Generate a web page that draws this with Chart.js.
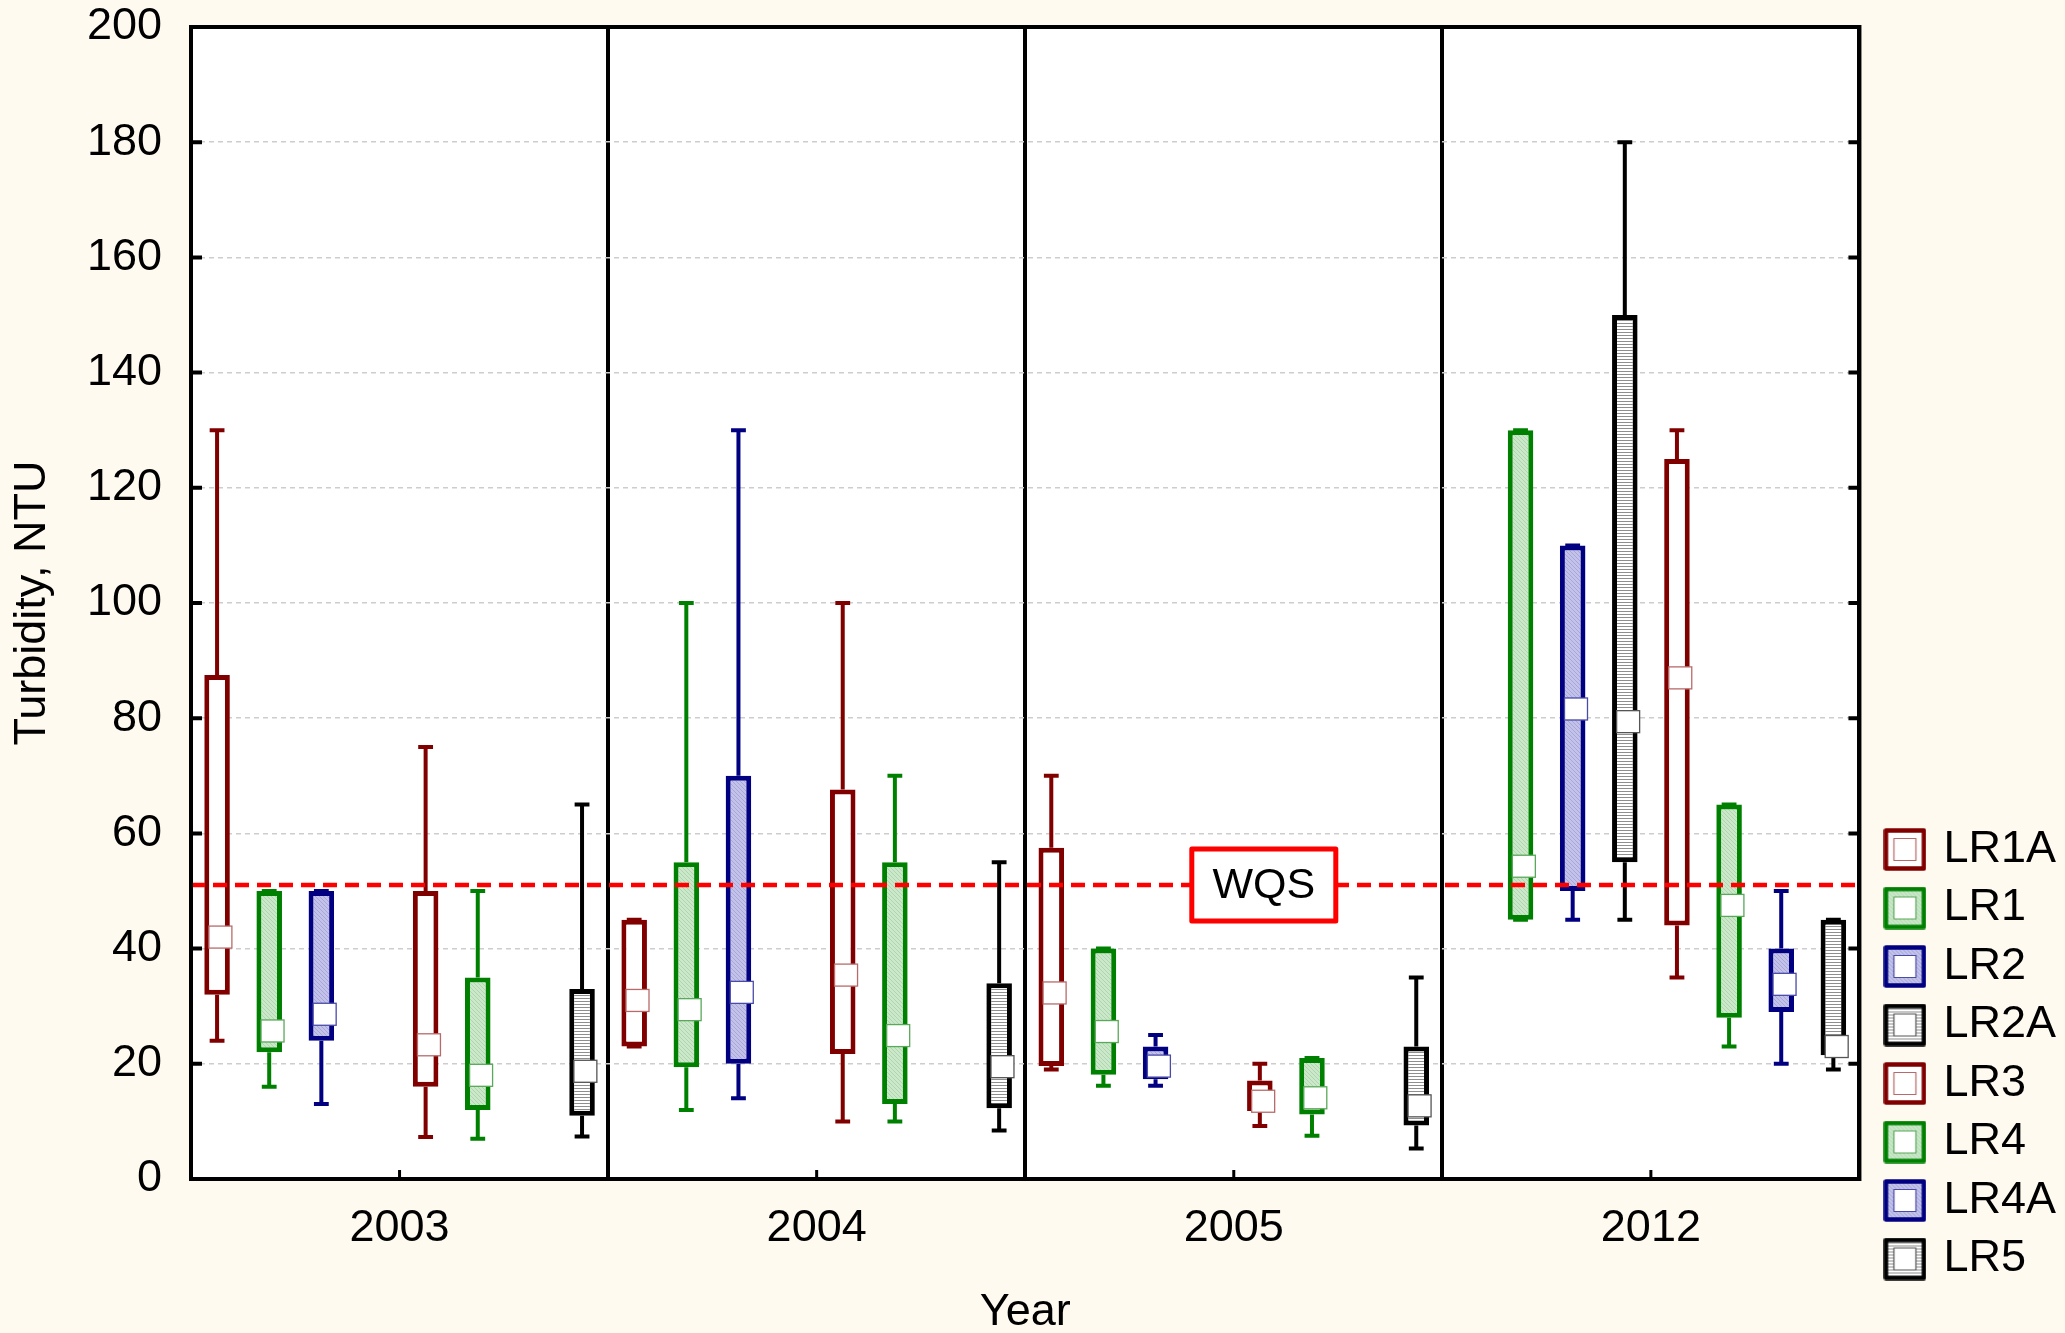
<!DOCTYPE html>
<html>
<head>
<meta charset="utf-8">
<title>Turbidity by year and station</title>
<script src="https://cdn.jsdelivr.net/npm/chart.js@4/dist/chart.umd.min.js"></script>
<style>
  html, body { margin: 0; padding: 0; background: #FFFAF0; }
  #wrap { width: 2065px; height: 1333px; }
  canvas { display: block; }
</style>
</head>
<body>
<div id="wrap"><canvas id="chart" width="2065" height="1333"></canvas></div>
<script>
// ---- data -------------------------------------------------------------
const years = ['2003', '2004', '2005', '2012'];
const stations = ['LR1A', 'LR1', 'LR2', 'LR2A', 'LR3', 'LR4', 'LR4A', 'LR5'];

// five-number summaries per year: [min, q1, median, q3, max]; null = not sampled
const LR1A = [[24, 32, 42, 87.5, 130], [23, 23, 31, 45, 45], [19, 19.6, 32.3, 57.5, 70], null];
const LR1  = [[16, 22, 25.7, 50, 50], [12, 19.4, 29.4, 55, 100], [16.2, 18.1, 25.6, 40, 40], [45, 45, 54.3, 130, 130]];
const LR2  = [[13, 24, 28.6, 50, 50], [14, 20, 32.4, 70, 130], [16.2, 17.3, 19.6, 23, 25], [45, 50, 81.6, 110, 110]];
const LR2A = [null, null, null, [45, 55, 79.4, 150, 180]];
const LR3  = [[7.3, 16, 23.3, 50, 75], [10, 21.7, 35.4, 67.6, 100], [9.2, 11.8, 13.5, 17.1, 20], [35, 44, 87, 125, 130]];
const LR4  = [[7, 12, 18, 35, 50], [10, 13, 24.9, 55, 70], [7.5, 11.2, 14.1, 21, 21], [23, 28, 47.5, 65, 65]];
const LR4A = [null, null, null, [20, 29, 33.8, 40, 50]];
const LR5  = [[7.4, 11, 18.7, 33, 65], [8.4, 12.3, 19.5, 34, 55], [5.3, 9.3, 12.7, 23, 35], [19, 21.5, 23, 45, 45]];

const summaries = [LR1A, LR1, LR2, LR2A, LR3, LR4, LR4A, LR5];

const yMin = 0, yMax = 200, yStep = 20;
const wqsValue = 51;
const wqsText = 'WQS';
const yTitle = 'Turbidity, NTU';
const xTitle = 'Year';

// ---- styles -----------------------------------------------------------
const FONT = '"Liberation Sans", Arial, Helvetica, sans-serif';
Chart.defaults.font.family = FONT;
Chart.defaults.color = '#000';

function pattern(kind) {
  const c = document.createElement('canvas');
  const g = c.getContext('2d');
  if (kind === 'green' || kind === 'blue') {
    c.width = 4; c.height = 4;
    g.fillStyle = kind === 'green' ? '#cbe8cb' : '#c3c3ea';
    g.fillRect(0, 0, 4, 4);
    g.fillStyle = kind === 'green' ? '#add6ad' : '#a6a6da';
    for (let i = 0; i < 4; i++) g.fillRect(i, (i + 1) % 4, 1, 1);
  } else {
    c.width = 3; c.height = 3;
    g.fillStyle = '#ffffff';
    g.fillRect(0, 0, 3, 3);
    g.fillStyle = '#8e8e8e';
    g.fillRect(0, 2, 3, 1);
  }
  return g.createPattern(c, 'repeat');
}

const RED = '#800000', GREEN = '#008000', NAVY = '#000080', BLACK = '#000000';
const styleByStation = {
  LR1A: { border: RED,   fill: '#ffffff',         mark: '#b86a6a' },
  LR1:  { border: GREEN, fill: pattern('green'),  mark: '#5aa85a' },
  LR2:  { border: NAVY,  fill: pattern('blue'),   mark: '#4a4aa8' },
  LR2A: { border: BLACK, fill: pattern('lines'),  mark: '#555555' },
  LR3:  { border: RED,   fill: '#ffffff',         mark: '#b86a6a' },
  LR4:  { border: GREEN, fill: pattern('green'),  mark: '#5aa85a' },
  LR4A: { border: NAVY,  fill: pattern('blue'),   mark: '#4a4aa8' },
  LR5:  { border: BLACK, fill: pattern('lines'),  mark: '#555555' }
};

// legend symbol: filled square with the station's border and a small median square
function legendIcon(st) {
  const s = 43;
  const c = document.createElement('canvas');
  c.width = s; c.height = s;
  const g = c.getContext('2d');
  g.fillStyle = st.fill;
  g.fillRect(2, 2, s - 4, s - 4);
  g.lineWidth = 4.5;
  g.strokeStyle = st.border;
  g.lineJoin = 'round';
  g.strokeRect(2.5, 2.5, s - 5, s - 5);
  g.fillStyle = '#ffffff';
  g.fillRect(10.5, 10.5, 22, 22);
  g.lineWidth = 1.2;
  g.strokeStyle = st.mark;
  g.strokeRect(10.5, 10.5, 22, 22);
  return c;
}

// ---- datasets: boxes are floating bars from q1 to q3 -------------------
const datasets = stations.map((name, i) => {
  const st = styleByStation[name];
  return {
    label: name,
    data: summaries[i].map(s => (s ? [s[1], s[3]] : null)),
    backgroundColor: st.fill,
    borderColor: st.border,
    borderWidth: 5,
    borderSkipped: false,
    categoryPercentage: 1.0,
    barPercentage: 0.49
  };
});

// ---- plugin: background, whiskers, medians, frame, WQS line -----------
const boxDecor = {
  id: 'boxDecor',
  beforeDraw(chart) {
    const { ctx, chartArea: a } = chart;
    ctx.save();
    ctx.fillStyle = '#FFFAF0';
    ctx.fillRect(0, 0, chart.width, chart.height);
    ctx.fillStyle = '#ffffff';
    ctx.fillRect(a.left, a.top, a.right - a.left, a.bottom - a.top);
    ctx.restore();
  },
  afterLayout(chart) {
    // legend block sits a little lower-right than the default right-aligned column
    const lg = chart.legend;
    if (!lg) return;
    const dx = 16, dy = -38;
    lg.left += dx; lg.right += dx;
    lg.top += dy; lg.bottom += dy;
  },
  beforeDatasetsDraw(chart) {
    const { ctx } = chart;
    const y = chart.scales.y;
    ctx.save();
    ctx.lineCap = 'butt';
    chart.data.datasets.forEach((ds, di) => {
      const meta = chart.getDatasetMeta(di);
      summaries[di].forEach((s, i) => {
        if (!s) return;
        const el = meta.data[i];
        const x = el.x;
        const capHalf = el.width * 0.29;
        const [mn, q1, , q3, mx] = s;
        ctx.strokeStyle = ds.borderColor;
        ctx.lineWidth = 4;
        ctx.beginPath();
        ctx.moveTo(x, y.getPixelForValue(mn));
        ctx.lineTo(x, y.getPixelForValue(q1));
        ctx.moveTo(x, y.getPixelForValue(q3));
        ctx.lineTo(x, y.getPixelForValue(mx));
        ctx.moveTo(x - capHalf, y.getPixelForValue(mn));
        ctx.lineTo(x + capHalf, y.getPixelForValue(mn));
        ctx.moveTo(x - capHalf, y.getPixelForValue(mx));
        ctx.lineTo(x + capHalf, y.getPixelForValue(mx));
        ctx.stroke();
      });
    });
    ctx.restore();
  },
  afterDatasetsDraw(chart) {
    const { ctx, chartArea: a } = chart;
    const y = chart.scales.y, x = chart.scales.x;
    ctx.save();

    // median markers
    chart.data.datasets.forEach((ds, di) => {
      const meta = chart.getDatasetMeta(di);
      const st = styleByStation[ds.label];
      summaries[di].forEach((s, i) => {
        if (!s) return;
        const el = meta.data[i];
        const w = el.width * 0.9, h = 22;
        const cx = el.x + el.width * 0.13;
        const cy = y.getPixelForValue(s[2]);
        ctx.fillStyle = '#ffffff';
        ctx.fillRect(cx - w / 2, cy - h / 2, w, h);
        ctx.lineWidth = 1.3;
        ctx.strokeStyle = st.mark;
        ctx.strokeRect(cx - w / 2, cy - h / 2, w, h);
      });
    });

    // WQS reference line
    const wy = Math.round(y.getPixelForValue(wqsValue));
    ctx.strokeStyle = '#ff0000';
    ctx.lineWidth = 4.5;
    ctx.setLineDash([14, 8]);
    ctx.beginPath();
    ctx.moveTo(a.left, wy);
    ctx.lineTo(a.right, wy);
    ctx.stroke();
    ctx.setLineDash([]);

    // plot frame
    ctx.strokeStyle = '#000';
    ctx.lineWidth = 4;
    ctx.strokeRect(a.left, a.top, a.right - a.left, a.bottom - a.top);

    // inward tick marks on left and right axes
    ctx.lineWidth = 4;
    ctx.beginPath();
    y.ticks.forEach(t => {
      const py = y.getPixelForValue(t.value);
      ctx.moveTo(a.left, py); ctx.lineTo(a.left + 11, py);
      ctx.moveTo(a.right - 11, py); ctx.lineTo(a.right, py);
    });
    ctx.stroke();
    // short marks at category centres on the bottom axis
    ctx.lineWidth = 3;
    ctx.beginPath();
    years.forEach((_, i) => {
      const px = x.getPixelForValue(i);
      ctx.moveTo(px, a.bottom); ctx.lineTo(px, a.bottom - 9);
    });
    ctx.stroke();

    // WQS label box
    const bw = 144, bh = 72;
    const bx = a.left + (a.right - a.left) * 0.643;
    ctx.fillStyle = '#ffffff';
    ctx.fillRect(bx - bw / 2, wy - bh / 2, bw, bh);
    ctx.strokeStyle = '#ff0000';
    ctx.lineWidth = 5;
    ctx.lineJoin = 'round';
    ctx.strokeRect(bx - bw / 2, wy - bh / 2, bw, bh);
    ctx.fillStyle = '#000';
    ctx.font = '43px ' + FONT;
    ctx.textAlign = 'center';
    ctx.textBaseline = 'middle';
    ctx.fillText(wqsText, bx, wy + 1);

    ctx.restore();
  }
};

new Chart(document.getElementById('chart'), {
  type: 'bar',
  data: { labels: years, datasets },
  options: {
    responsive: false,
    animation: false,
    events: [],
    devicePixelRatio: 1,
    layout: { autoPadding: false, padding: { top: 27, right: 15, bottom: 0, left: 0 } },
    scales: {
      x: {
        offset: true,
        grid: { offset: true, color: '#000', lineWidth: 4, drawTicks: false },
        border: { display: false },
        ticks: { font: { size: 45 }, color: '#000', padding: 23, maxRotation: 0 },
        title: { display: true, text: xTitle, font: { size: 45 }, color: '#000', padding: { top: 0, bottom: -7 } },
        afterFit: s => { s.height = 154; }
      },
      y: {
        stacked: false,
        min: yMin, max: yMax,
        // the label gap comes from an invisible tick mark so it does not pad the plot top
        ticks: { stepSize: yStep, font: { size: 45 }, color: '#000', padding: 0 },
        grid: { color: '#cdcdcd', lineWidth: 1.5, drawTicks: true, tickLength: 29, tickColor: 'rgba(0,0,0,0)' },
        border: { display: false, dash: [5, 4] },
        title: { display: true, text: yTitle, font: { size: 45 }, color: '#000', padding: { top: 6, bottom: 0 } },
        afterFit: s => { s.width = 191; }
      }
    },
    plugins: {
      tooltip: { enabled: false },
      legend: {
        position: 'right',
        align: 'end',
        labels: {
          usePointStyle: true,
          boxWidth: 32,
          boxHeight: 43,
          padding: 13.5,
          font: { size: 45 },
          color: '#000',
          generateLabels: chart => chart.data.datasets.map((ds, i) => ({
            text: ds.label,
            pointStyle: legendIcon(styleByStation[ds.label]),
            datasetIndex: i,
            hidden: false,
            lineWidth: 0,
            fillStyle: '#ffffff',
            strokeStyle: ds.borderColor,
            fontColor: '#000'
          }))
        }
      }
    }
  },
  plugins: [boxDecor]
});
</script>
</body>
</html>
